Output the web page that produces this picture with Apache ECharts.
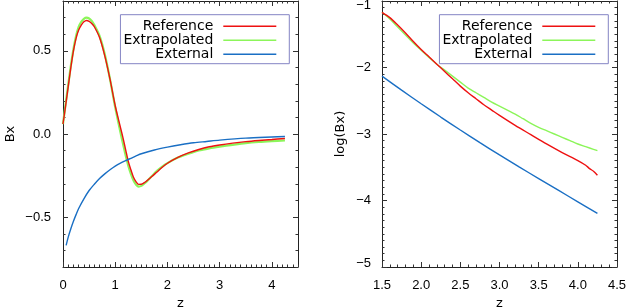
<!DOCTYPE html>
<html><head><meta charset="utf-8">
<script src="https://cdn.jsdelivr.net/npm/echarts@6/dist/echarts.min.js"></script>
<style>html,body{margin:0;padding:0;background:#fff}#c{width:628px;height:307px}</style>
</head><body><div id="c"></div><script>
// ---- Left panel: Bx vs z ----
const zLeft = [0.0,0.05,0.1,0.15,0.2,0.25,0.3,0.35,0.4,0.45,0.5,0.55,0.6,0.7,0.8,0.9,1.0,1.1,1.15,1.2,1.25,1.3,1.35,1.4,1.45,1.5,1.55,1.6,1.7,1.8,1.9,2.0,2.2,2.4,2.6,2.8,3.0,3.25,3.5,3.75,4.0,4.25];
const refBx = [0.06,0.17,0.285,0.40,0.50,0.575,0.625,0.655,0.675,0.683,0.678,0.665,0.645,0.58,0.47,0.33,0.17,0.04,-0.025,-0.095,-0.165,-0.215,-0.26,-0.288,-0.303,-0.302,-0.294,-0.283,-0.256,-0.228,-0.200,-0.176,-0.141,-0.114,-0.093,-0.077,-0.066,-0.055,-0.046,-0.039,-0.033,-0.027];
const extrapBx = [0.06,0.18,0.295,0.41,0.51,0.59,0.645,0.675,0.693,0.70,0.695,0.68,0.655,0.59,0.48,0.33,0.16,0.01,-0.06,-0.13,-0.19,-0.24,-0.28,-0.305,-0.316,-0.312,-0.300,-0.287,-0.254,-0.222,-0.196,-0.175,-0.142,-0.119,-0.099,-0.086,-0.076,-0.065,-0.055,-0.048,-0.043,-0.039];
const zExtLeft = [0.06,0.1,0.15,0.2,0.25,0.3,0.4,0.5,0.6,0.7,0.8,0.9,1.0,1.1,1.2,1.3,1.4,1.5,1.75,2.0,2.25,2.5,2.75,3.0,3.5,4.0,4.25];
const externalBx = [-0.67,-0.62,-0.57,-0.525,-0.485,-0.448,-0.39,-0.34,-0.302,-0.268,-0.24,-0.215,-0.193,-0.175,-0.16,-0.146,-0.132,-0.119,-0.096,-0.079,-0.065,-0.053,-0.045,-0.037,-0.025,-0.018,-0.015];
// ---- Right panel: log(Bx) vs z ----
const zRefLog = [1.5,1.6,1.7,1.8,1.9,2.0,2.1,2.2,2.3,2.4,2.5,2.6,2.7,2.8,2.9,3.0,3.2,3.4,3.6,3.8,4.0,4.1,4.15,4.2,4.25];
const refLog = [-1.17,-1.25,-1.36,-1.48,-1.61,-1.73,-1.84,-1.95,-2.06,-2.17,-2.28,-2.38,-2.47,-2.56,-2.64,-2.72,-2.87,-3.01,-3.15,-3.28,-3.40,-3.47,-3.52,-3.56,-3.62];
const zExtrapLog = [1.5,1.6,1.7,1.8,1.9,2.0,2.1,2.2,2.3,2.4,2.5,2.6,2.7,2.8,2.9,3.0,3.1,3.2,3.3,3.4,3.5,3.6,3.7,3.8,3.9,4.0,4.1,4.2,4.25];
const extrapLog = [-1.17,-1.27,-1.39,-1.51,-1.63,-1.74,-1.85,-1.95,-2.04,-2.13,-2.22,-2.31,-2.38,-2.45,-2.52,-2.58,-2.64,-2.70,-2.77,-2.84,-2.90,-2.95,-3.00,-3.05,-3.10,-3.15,-3.19,-3.23,-3.25];
const zExternalLog = [1.5,1.75,2.0,2.25,2.5,2.75,3.0,3.25,3.5,3.75,4.0,4.25];
const externalLog = [-2.13,-2.34,-2.545,-2.745,-2.94,-3.13,-3.315,-3.495,-3.67,-3.845,-4.02,-4.195];
// ---- ticks ----
const leftXTicks = [0,1,2,3,4];
const leftYTicks = [-0.5,0,0.5];
const rightXTicks = [1.5,2.0,2.5,3.0,3.5,4.0,4.5];
const rightYTicks = [-5,-4,-3,-2,-1];
const legendNames = ['Reference','Extrapolated','External'];

const zip = (a,b) => a.map((v,i)=>[v,b[i]]);
const TF = 'Liberation Sans', NF = 'DejaVu Sans';
const AX = '#222', TK = '#333';
const fmt0 = v => (v<0?'\u2212':'') + Math.abs(v).toFixed(0);
const fmt1 = v => (v<0?'\u2212':'') + Math.abs(v).toFixed(1);

function mainAxis(gi, pos, min, max, ticks, fmt, name, nameGap, margin, extraLabel){
  return {
    type:'value', gridIndex:gi, position:pos, min:min, max:max,
    name:name, nameLocation:'middle', nameGap:nameGap,
    nameTextStyle:{fontFamily:NF, fontSize:13, color:'#000'},
    axisLine:{show:true, onZero:false, lineStyle:{color:AX, width:1}},
    axisTick:{show:true, inside:true, length:5, customValues:ticks, lineStyle:{color:TK}},
    axisLabel:Object.assign({show:true, customValues:ticks, formatter:fmt, margin:margin, color:'#000', fontFamily:TF, fontSize:13}, extraLabel||{}),
    splitLine:{show:false}
  };
}
function edgeAxis(gi, pos, min, max, ticks){
  return {type:'value', gridIndex:gi, position:pos, min:min, max:max,
    axisLine:{show:true, onZero:false, lineStyle:{color:AX, width:1}},
    axisTick:{show:true, inside:true, length:5, customValues:ticks, lineStyle:{color:TK}},
    axisLabel:{show:false, customValues:ticks}, splitLine:{show:false}};
}
function minorAxis(gi, pos, min, max){
  return {type:'value', gridIndex:gi, position:pos, min:min, max:max, interval:0.1,
    axisLine:{show:false, onZero:false},
    axisTick:{show:true, inside:true, length:2.5, lineStyle:{color:TK}},
    axisLabel:{show:false}, splitLine:{show:false}};
}

const rightYLabel = {
  formatter: v => { const s = fmt0(v); if (v === -1) return '{t|'+s+'}'; if (v === -5) return '{b|'+s+'}'; return s; },
  rich: { t:{padding:[9,0,0,0], fontFamily:TF, fontSize:13, color:'#000'}, b:{padding:[0,0,7,0], fontFamily:TF, fontSize:13, color:'#000'} }
};

const xAxis = [
  mainAxis(0,'bottom',0,4.5,leftXTicks,fmt0,'z',20,12),
  edgeAxis(0,'top',0,4.5,leftXTicks),
  minorAxis(0,'bottom',0,4.5),
  minorAxis(0,'top',0,4.5),
  mainAxis(1,'bottom',1.5,4.5,rightXTicks,fmt1,'z',20,12),
  edgeAxis(1,'top',1.5,4.5,rightXTicks),
  minorAxis(1,'bottom',1.5,4.5),
  minorAxis(1,'top',1.5,4.5)
];
const yAxis = [
  mainAxis(0,'left',-0.8,0.8,leftYTicks,fmt1,'Bx',46,12),
  edgeAxis(0,'right',-0.8,0.8,leftYTicks),
  minorAxis(0,'left',-0.8,0.8),
  minorAxis(0,'right',-0.8,0.8),
  mainAxis(1,'left',-5,-1,rightYTicks,fmt0,'log(Bx)',35,11,rightYLabel),
  edgeAxis(1,'right',-5,-1,rightYTicks),
  minorAxis(1,'left',-5,-1),
  minorAxis(1,'right',-5,-1)
];

const RED = '#ee1111', GREEN = '#8cf55a', BLUE = '#1a6fc4';
function line(name, data, xi, yi, color, w){
  return {type:'line', name:name, data:data, xAxisIndex:xi, yAxisIndex:yi, showSymbol:false, symbol:'none',
    smooth:0.3, color:color, lineStyle:{color:color, width:w}, itemStyle:{color:color}, silent:true, animation:false};
}
const series = [
  line('Extrapolated', zip(zLeft, extrapBx), 0, 0, GREEN, 2.2),
  line('Reference', zip(zLeft, refBx), 0, 0, RED, 1.4),
  line('External', zip(zExtLeft, externalBx), 0, 0, BLUE, 1.4),
  line('Extrapolated', zip(zExtrapLog, extrapLog), 4, 4, GREEN, 1.4),
  line('Reference', zip(zRefLog, refLog), 4, 4, RED, 1.4),
  line('External', zip(zExternalLog, externalLog), 4, 4, BLUE, 1.4)
];
function legend(right){
  return {data:legendNames, orient:'vertical', right:right, top:14.7, align:'right',
    icon:'rect', itemWidth:53, itemHeight:1.5, itemGap:0, padding:[4.5,13,2.5,3],
    borderColor:'#8484c4', borderWidth:1, selectedMode:false,
    textStyle:{fontFamily:NF, fontSize:14, color:'#000', lineHeight:14, padding:[0,5,0,0]}};
}
const chart = echarts.init(document.getElementById('c'), null, {renderer:'canvas'});
chart.setOption({
  animation:false, backgroundColor:'#fff',
  grid:[{left:63, right:330, top:1, bottom:40, containLabel:false, outerBoundsMode:'none'},
        {left:382, right:11, top:1, bottom:40, containLabel:false, outerBoundsMode:'none'}],
  xAxis:xAxis, yAxis:yAxis,
  legend:[legend(338.7), legend(19.7)],
  series:series
});
</script></body></html>
